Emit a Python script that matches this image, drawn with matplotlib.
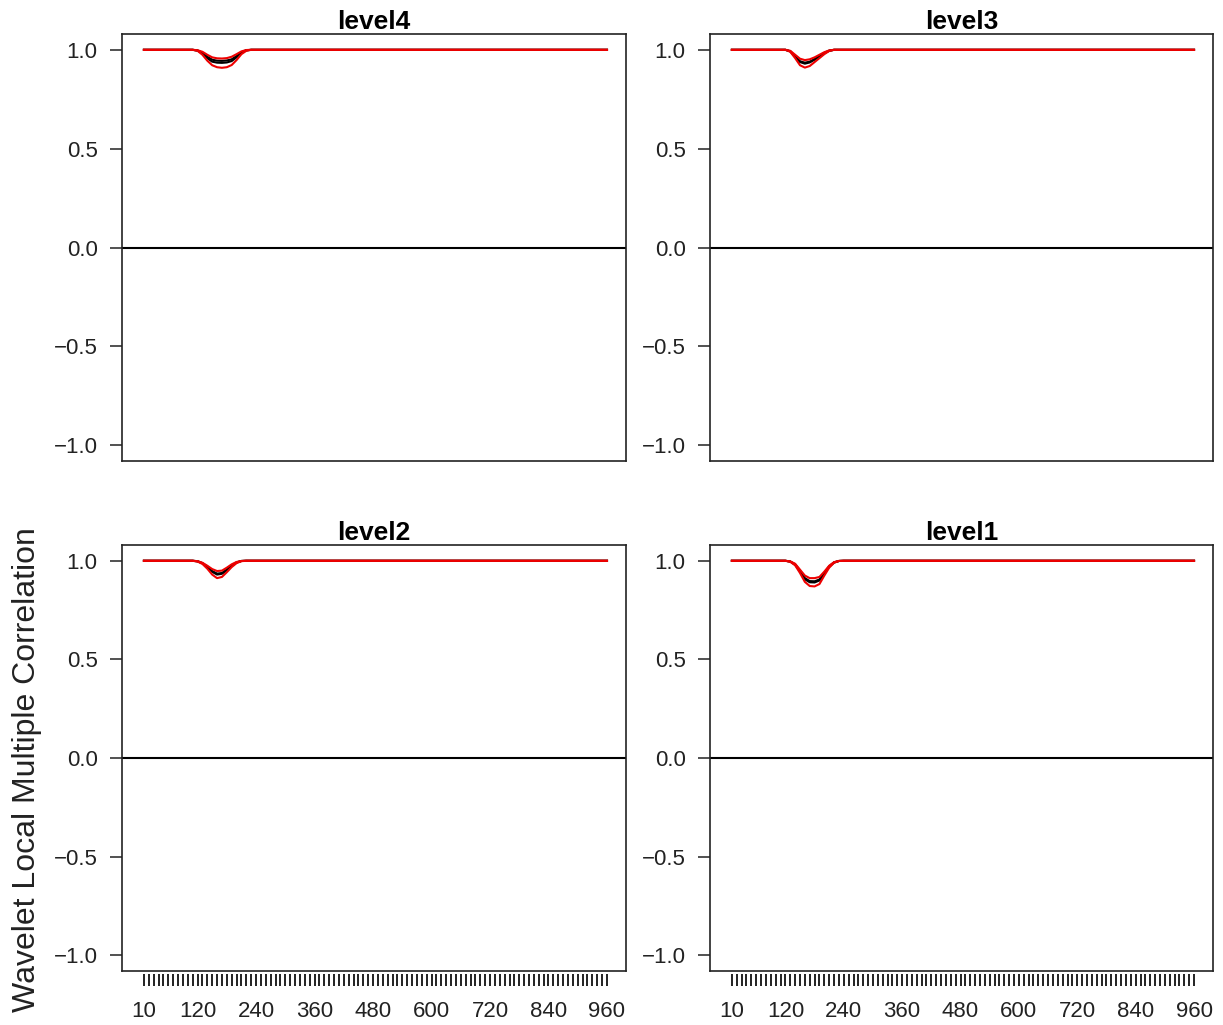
import matplotlib
matplotlib.use("Agg")
import matplotlib.pyplot as plt

plt.rcParams['font.family'] = ['Liberation Sans', 'DejaVu Sans']

# ---- data: wavelet local multiple correlation per level ----
levels = ['level4', 'level3', 'level2', 'level1']

t_level4 = [10, 110, 120, 130, 140, 150, 160, 170, 180, 190, 200, 210, 220, 230, 960]
up_level4 = [1.0, 1.0, 0.998, 0.990, 0.975, 0.962, 0.957, 0.956, 0.958, 0.965, 0.978, 0.992, 0.999, 1.0, 1.0]
est_level4 = [1.0, 1.0, 0.997, 0.985, 0.965, 0.950, 0.945, 0.944, 0.946, 0.952, 0.968, 0.988, 0.998, 1.0, 1.0]
est2_level4 = [1.0, 1.0, 0.996, 0.982, 0.958, 0.940, 0.935, 0.934, 0.936, 0.943, 0.962, 0.985, 0.997, 1.0, 1.0]
lo_level4 = [1.0, 1.0, 0.995, 0.975, 0.945, 0.922, 0.912, 0.909, 0.912, 0.923, 0.948, 0.978, 0.995, 1.0, 1.0]

t_level3 = [10, 120, 130, 140, 150, 160, 170, 180, 190, 200, 210, 220, 960]
up_level3 = [1.0, 1.0, 0.995, 0.975, 0.955, 0.948, 0.952, 0.962, 0.975, 0.988, 0.997, 1.0, 1.0]
est_level3 = [1.0, 1.0, 0.993, 0.968, 0.942, 0.935, 0.940, 0.953, 0.968, 0.984, 0.996, 1.0, 1.0]
est2_level3 = [1.0, 1.0, 0.992, 0.965, 0.938, 0.930, 0.936, 0.950, 0.966, 0.983, 0.995, 1.0, 1.0]
lo_level3 = [1.0, 1.0, 0.990, 0.958, 0.922, 0.910, 0.918, 0.938, 0.958, 0.978, 0.994, 1.0, 1.0]

t_level2 = [10, 110, 120, 130, 140, 150, 160, 170, 180, 190, 200, 210, 220, 960]
up_level2 = [1.0, 1.0, 0.998, 0.990, 0.975, 0.958, 0.948, 0.950, 0.965, 0.982, 0.994, 0.999, 1.0, 1.0]
est_level2 = [1.0, 1.0, 0.998, 0.988, 0.970, 0.948, 0.935, 0.938, 0.955, 0.976, 0.992, 0.999, 1.0, 1.0]
est2_level2 = [1.0, 1.0, 0.997, 0.987, 0.968, 0.944, 0.930, 0.934, 0.952, 0.974, 0.991, 0.999, 1.0, 1.0]
lo_level2 = [1.0, 1.0, 0.996, 0.984, 0.960, 0.930, 0.912, 0.918, 0.942, 0.968, 0.988, 0.998, 1.0, 1.0]

t_level1 = [10, 120, 130, 140, 150, 160, 170, 180, 190, 200, 210, 220, 230, 240, 960]
up_level1 = [1.0, 1.0, 0.997, 0.985, 0.955, 0.925, 0.912, 0.912, 0.918, 0.945, 0.975, 0.993, 0.999, 1.0, 1.0]
est_level1 = [1.0, 1.0, 0.996, 0.982, 0.950, 0.912, 0.897, 0.896, 0.905, 0.938, 0.972, 0.992, 0.999, 1.0, 1.0]
est2_level1 = [1.0, 1.0, 0.996, 0.980, 0.946, 0.906, 0.891, 0.890, 0.900, 0.935, 0.970, 0.991, 0.999, 1.0, 1.0]
lo_level1 = [1.0, 1.0, 0.995, 0.977, 0.938, 0.893, 0.872, 0.870, 0.882, 0.925, 0.965, 0.990, 0.999, 1.0, 1.0]

series = {
    'level4': (t_level4, est_level4, est2_level4, up_level4, lo_level4),
    'level3': (t_level3, est_level3, est2_level3, up_level3, lo_level3),
    'level2': (t_level2, est_level2, est2_level2, up_level2, lo_level2),
    'level1': (t_level1, est_level1, est2_level1, up_level1, lo_level1),
}

x_minor = list(range(10, 961, 10))
x_major = [10, 120, 240, 360, 480, 600, 720, 840, 960]
y_ticks = [-1.0, -0.5, 0.0, 0.5, 1.0]
y_ticklabels = ['\u22121.0', '\u22120.5', '0.0', '0.5', '1.0']

# ---- layout ----
W, H = 1223, 1025
fig = plt.figure(figsize=(W / 100, H / 100), dpi=100)

boxes = {
    'level4': (122, 34, 626, 461),
    'level3': (710, 34, 1213, 461),
    'level2': (122, 545, 626, 971),
    'level1': (710, 545, 1213, 971),
}

for name in levels:
    x0, y0, x1, y1 = boxes[name]
    ax = fig.add_axes([x0 / W, 1 - y1 / H, (x1 - x0) / W, (y1 - y0) / H])
    t, est, est2, up, lo = series[name]

    ax.axhline(0, color='black', lw=1.5, zorder=1)
    ax.plot(t, est, color='black', lw=1.5, zorder=2)
    ax.plot(t, est2, color='black', lw=1.5, zorder=2)
    ax.plot(t, up, color='#ee0000', lw=1.5, zorder=3)
    ax.plot(t, lo, color='#ee0000', lw=1.5, zorder=3)

    ax.set_xlim(-35, 999)
    ax.set_ylim(-1.08, 1.08)

    for s in ax.spines.values():
        s.set_linewidth(1.2)
        s.set_color('#222222')

    ax.set_yticks(y_ticks)
    ax.set_yticklabels(y_ticklabels)
    ax.tick_params(axis='y', direction='out', length=8.5, width=1.1,
                   pad=9, labelsize=16, colors='#222222')

    ax.set_xticks([])
    if name in ('level2', 'level1'):
        sec = ax.secondary_xaxis(-0.006)
        sec.spines['bottom'].set_visible(False)
        sec.set_xticks(x_minor, minor=True)
        sec.set_xticks(x_major)
        sec.set_xticklabels([str(v) for v in x_major])
        sec.tick_params(axis='x', which='both', direction='out', length=8.5,
                        width=1.4, colors='#222222', labelsize=16, pad=11)

    ax.set_title(name, fontsize=19, fontweight='bold', pad=3)

fig.text(0.022, 0.249, 'Wavelet Local Multiple Correlation', rotation=90,
         ha='center', va='center', fontsize=23, color='#222222')

fig.savefig('out.png', dpi=100)
